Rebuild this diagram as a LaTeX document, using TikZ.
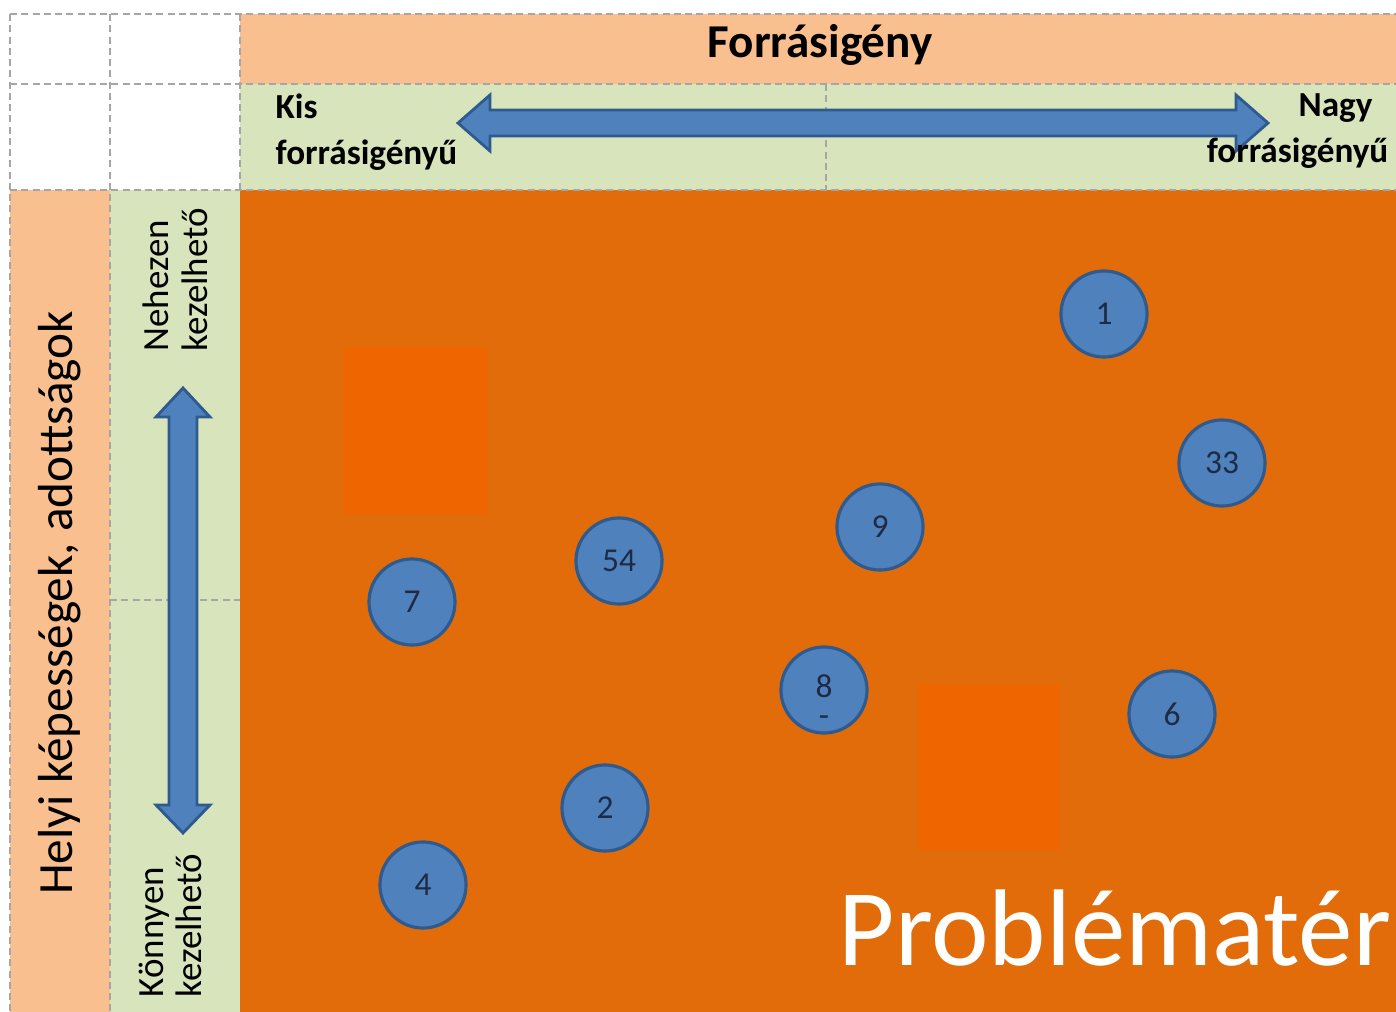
\documentclass[tikz,border=0pt]{standalone}
\usepackage{fontspec}
\setmainfont{Carlito}
\definecolor{hdrorange}{HTML}{FABF8F}
\definecolor{hdrgreen}{HTML}{D8E4BC}
\definecolor{fieldorange}{HTML}{E26B0A}
\definecolor{hotorange}{HTML}{EF6600}
\definecolor{bubbleblue}{HTML}{4F81BD}
\definecolor{bubbleedge}{HTML}{2F5A8E}
\definecolor{gridgray}{HTML}{A6A6A6}
\definecolor{numnavy}{HTML}{1F2A44}
\begin{document}
\begin{tikzpicture}[x=0.01cm,y=-0.01cm,
    grid/.style={gridgray,dash pattern=on 2pt off 1.2pt,line width=0.5pt},
    bubble/.style={circle,fill=bubbleblue,draw=bubbleedge,line width=0.9pt,
        minimum size=0.86cm,inner sep=0pt,text=numnavy,font=\fontsize{9.5}{11}\selectfont},
    bigarrow/.style={fill=bubbleblue,draw=bubbleedge,line width=0.8pt}]
    \useasboundingbox (0,0) rectangle (1396,1012);
    %% header bands and side columns
    \fill[hdrorange] (240,14) rectangle (1396,84);
    \fill[hdrgreen] (240,84) rectangle (1396,190);
    \fill[hdrorange] (10,190) rectangle (110,1012);
    \fill[hdrgreen] (110,190) rectangle (240,1012);
    %% problem space
    \fill[fieldorange] (240,190) rectangle (1396,1012);
    \fill[hotorange] (344,347) rectangle (487,514);
    \fill[hotorange] (918,684) rectangle (1060,850);
    %% dashed grid
    \draw[grid] (10,14) -- (1396,14);
    \draw[grid] (10,84) -- (1396,84);
    \draw[grid] (10,190) -- (1396,190);
    \draw[grid] (10,14) -- (10,1012);
    \draw[grid] (110,14) -- (110,1012);
    \draw[grid] (240,14) -- (240,190);
    \draw[grid] (826,84) -- (826,190);
    \draw[grid] (110,600) -- (240,600);
    %% double arrows
    \draw[bigarrow] (458,123) -- (490,95) -- (490,110) -- (1236,110) -- (1236,95)
        -- (1268,123) -- (1236,151) -- (1236,136) -- (490,136) -- (490,151) -- cycle;
    \draw[bigarrow] (183,388) -- (210,417) -- (197,417) -- (197,805) -- (210,805)
        -- (183,833) -- (156,805) -- (169,805) -- (169,417) -- (156,417) -- cycle;
    %% axis labels
    \node[font=\fontsize{13.4}{15}\selectfont\bfseries] (forras) at (820,45) {Forrásigény};
    \node[font=\fontsize{10}{13.2}\selectfont\bfseries,align=left,anchor=north west,inner sep=0pt]
        (kis) at (275,93) {Kis\\forrásigényű};
    \node[font=\fontsize{10}{13.2}\selectfont\bfseries,align=right,anchor=north east,inner sep=0pt]
        (nagy) at (1389,93) {Nagy\hspace*{4.5pt}\\forrásigényű};
    \node[font=\fontsize{14}{16}\selectfont,rotate=90] (helyi) at (60,603) {Helyi képességek, adottságok};
    \node[font=\fontsize{10.5}{11}\selectfont,align=left,rotate=90,anchor=north west,inner sep=0pt]
        (nehez) at (142,352) {Nehezen\\kezelhető};
    \node[font=\fontsize{10.5}{11}\selectfont,align=left,rotate=90,anchor=north west,inner sep=0pt]
        (konnyu) at (138,998) {Könnyen\\kezelhető};
    \node[font=\fontsize{31}{33}\selectfont,text=white,anchor=base west,inner sep=0pt]
        (problema) at (838,965) {Problématér};
    %% problems
    \node[bubble] (p1) at (1104,314) {1};
    \node[bubble] (p33) at (1222,463) {33};
    \node[bubble] (p9) at (880,527) {9};
    \node[bubble] (p54) at (619,561) {54};
    \node[bubble] (p7) at (412,602) {7};
    \node[bubble] (p8) at (824,690) {\raisebox{2pt}{8}};
    \node[text=numnavy,font=\fontsize{9.5}{11}\selectfont,inner sep=0pt] (p8dash) at (824,721) {-};
    \node[bubble] (p6) at (1172,714) {6};
    \node[bubble] (p2) at (605,808) {2};
    \node[bubble] (p4) at (423,885) {4};
\end{tikzpicture}
\end{document}
